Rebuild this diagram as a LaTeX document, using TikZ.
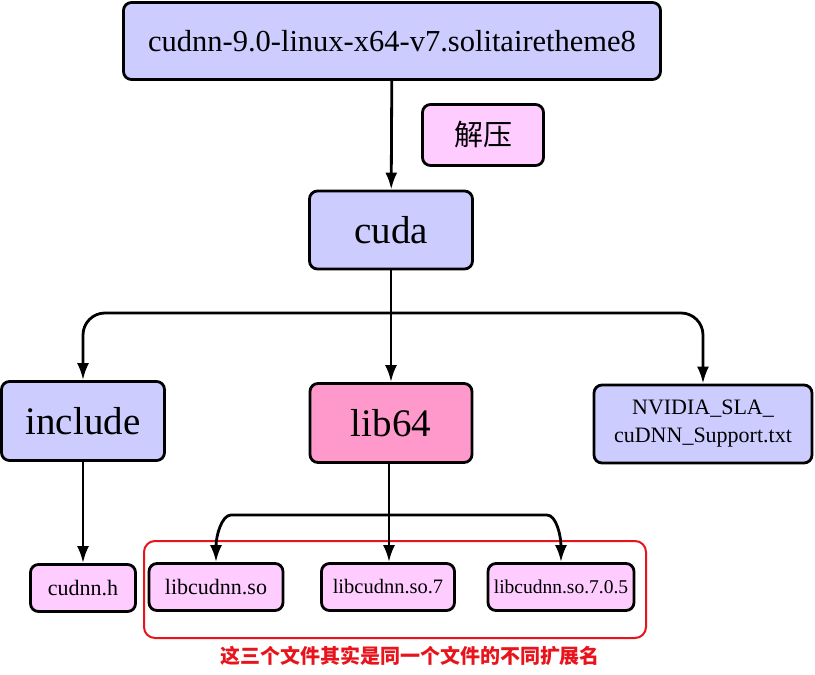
\documentclass[tikz,border=0pt]{standalone}
\usepackage{fontspec}
\setmainfont{Liberation Serif}
\newfontfamily\cjk{Noto Sans CJK SC}
\usetikzlibrary{arrows.meta}
\definecolor{dirblue}{HTML}{CCCCFF}
\definecolor{filepink}{HTML}{FFCCFF}
\definecolor{libpink}{HTML}{FF99CC}
\definecolor{notered}{HTML}{E8141C}

\begin{document}
\begin{tikzpicture}[x=1pt, y=-1pt,
    box/.style={draw, line width=2.8pt, rounded corners=8pt, inner sep=0pt},
    dirbox/.style={box, fill=dirblue},
    filebox/.style={box, fill=filepink, font=\fontsize{22}{27}\selectfont},
    link/.style={line width=2.8pt, -{Latex[length=17pt, width=12pt]}}]
            \useasboundingbox (0,0) rectangle (815,675);
            \node[dirbox, minimum width=537pt, minimum height=77pt, font=\fontsize{30.5}{36}\selectfont] (archive) at (392,41) {cudnn-9.0-linux-x64-v7.solitairetheme8};
            \node[filebox, minimum width=121pt, minimum height=61pt, font=\cjk\fontsize{29}{34}\selectfont] (unzip) at (483,135) {解压};
            \node[dirbox, minimum width=163pt, minimum height=78pt, font=\fontsize{39}{46}\selectfont] (cuda) at (391,230) {cuda};
            \node[dirbox, minimum width=163pt, minimum height=79pt, font=\fontsize{39}{46}\selectfont] (include) at (83,421) {include};
            \node[box, fill=libpink, minimum width=162pt, minimum height=79pt, font=\fontsize{39}{46}\selectfont] (lib64) at (391,423) {lib64};
            \node[dirbox, minimum width=218pt, minimum height=78pt, align=center, font=\fontsize{22}{28}\selectfont] (nvidia) at (703,424) {NVIDIA\_SLA\_\\cuDNN\_Support.txt};
            \node[filebox, minimum width=105pt, minimum height=47pt] (cudnnh) at (83,588) {cudnn.h};
            \node[filebox, minimum width=134pt, minimum height=47pt] (libso) at (216,587) {libcudnn.so};
            \node[filebox, minimum width=133pt, minimum height=47pt, font=\fontsize{20.5}{25}\selectfont] (libsoseven) at (388,587) {libcudnn.so.7};
            \node[filebox, minimum width=146pt, minimum height=47pt, font=\fontsize{19.5}{24}\selectfont] (libsofull) at (561,587) {libcudnn.so.7.0.5};
            % the three names of one library
            \node[draw=notered, line width=2pt, rounded corners=11pt, minimum width=502pt, minimum height=97pt] (same) at (395,589.5) {};
            \node[text=notered, font=\cjk\bfseries\fontsize{20}{24}\selectfont] (note) at (410,656) {这三个文件其实是同一个文件的不同扩展名};
            \draw[link] (archive) -- (cuda);
            \coordinate (split) at (391,313);
            \draw[link] (cuda) -- (lib64.north);
            \draw[link, rounded corners=22pt] (split) -| (include.north);
            \draw[link, rounded corners=22pt] (split) -| (nvidia.north);
            \draw[link] (include) -- (cudnnh);
            \coordinate (libsplit) at (389,515);
            \draw[link] (lib64.south -| libsplit) -- (libsoseven.north -| libsplit);
            \draw[link] (libsplit) -- (231,515) .. controls (222,515) and (216,535) .. (libso.north);
            \draw[link] (libsplit) -- (547,515) .. controls (556,515) and (561,535) .. (libsofull.north);
        \end{tikzpicture}
\end{document}
